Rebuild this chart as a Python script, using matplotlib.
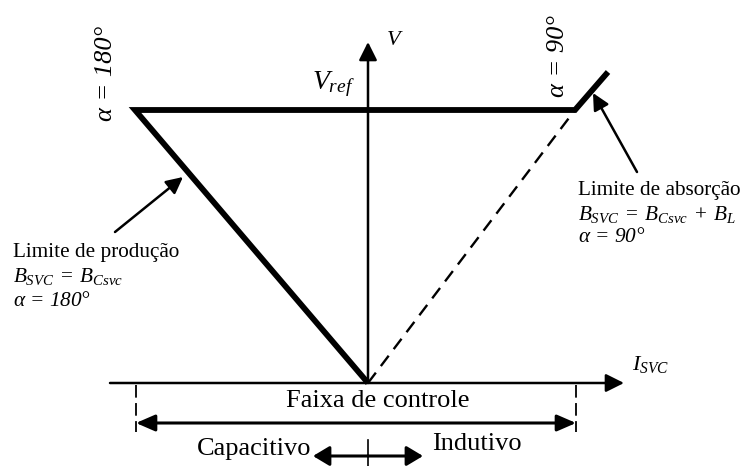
import matplotlib.pyplot as plt

plt.rcParams['font.family'] = ['Liberation Serif', 'DejaVu Serif']
plt.rcParams['mathtext.fontset'] = 'custom'
plt.rcParams['mathtext.rm'] = 'Liberation Serif'
plt.rcParams['mathtext.it'] = 'Liberation Serif:italic'

# characteristic V-I of the SVC, drawn in canvas units (x right, y down)
origin = (368, 383)
v_axis_top = (368, 42)
i_axis_x = [110, 624]
vref_y = 110
alpha180_x = 135
alpha90_x = 575
abs_tip = (608, 72)

# control band under the current axis
band_x = [136, 576]
band_y = 423
band_tick = [385, 432]
mode_y = 456
mode_x = [313, 423]
mode_tick = [440, 466]

# annotation arrows (tail, head)
prod_arrow = [(115, 232), (183, 177)]
abs_arrow = [(637, 172), (593, 93)]

prod_lines = ['Limite de produção', r'$B_{SVC}\;=\;B_{Csvc}$', r'$\alpha$ = 180°']
abs_lines = ['Limite de absorção', r'$B_{SVC}\;=\;B_{Csvc}\;+\;B_L$', r'$\alpha$ = 90°']

fig = plt.figure(figsize=(7.44, 4.66), dpi=100)
ax = fig.add_axes([0, 0, 1, 1])
ax.set_xlim(0, 744)
ax.set_ylim(466, 0)
ax.axis('off')


def arrow(tail, head, style='-|>', lw=1.8, hl=1.1, hw=0.55):
    ax.annotate('', xy=head, xytext=tail,
                arrowprops=dict(arrowstyle=f'{style},head_length={hl},head_width={hw}',
                                lw=lw, color='k', shrinkA=0, shrinkB=0,
                                mutation_scale=10))


# axes
arrow((i_axis_x[0], origin[1]), (i_axis_x[1], origin[1]))
arrow(origin, v_axis_top)

# thick limit characteristic
ax.plot([origin[0], alpha180_x, alpha90_x, abs_tip[0]],
        [origin[1], vref_y, vref_y, abs_tip[1]],
        color='k', lw=4.2, solid_joinstyle='miter', solid_capstyle='butt')

# dashed absorption slope
ax.plot([origin[0], alpha90_x], [origin[1], vref_y], color='k', lw=1.7,
        dashes=(5.5, 3.5))

# control band
for x in band_x:
    ax.plot([x, x], band_tick, color='k', lw=1.3, dashes=(7, 3))
arrow((band_x[0], band_y), (band_x[1], band_y), style='<|-|>', lw=2.2, hl=1.15, hw=0.5)

arrow((origin[0], mode_y), (mode_x[0], mode_y), lw=2.2, hl=1.0, hw=0.6)
arrow((origin[0], mode_y), (mode_x[1], mode_y), lw=2.2, hl=1.0, hw=0.6)
ax.plot([origin[0], origin[0]], mode_tick, color='k', lw=1.2)

arrow(*prod_arrow, lw=1.8, hl=1.0, hw=0.5)
arrow(*abs_arrow, lw=1.8, hl=1.0, hw=0.5)

# labels
ax.text(387, 45, 'V', fontsize=16, style='italic', ha='left', va='baseline')
ax.text(312, 89, r'$V_{ref}$', fontsize=20, ha='left', va='baseline')
ax.text(632, 370, r'$I_{SVC}$', fontsize=16, ha='left', va='baseline')
ax.text(106, 73, 'α = 180°', fontsize=19, style='italic', rotation=90,
        ha='center', va='center')
ax.text(558, 56, 'α = 90°', fontsize=19, style='italic', rotation=90,
        ha='center', va='center')

ax.text(378, 407, 'Faixa de controle', fontsize=19, ha='center', va='baseline')
ax.text(311, 455, 'Capacitivo', fontsize=19, ha='right', va='baseline')
ax.text(432, 450, 'Indutivo', fontsize=19, ha='left', va='baseline')

for i, (y, s) in enumerate(zip([257, 282, 306], prod_lines)):
    ax.text(13, y, s, fontsize=15.3, ha='left', va='baseline',
            style='italic' if i == 2 else 'normal')
for i, (y, s) in enumerate(zip([195, 220, 242], abs_lines)):
    ax.text(578, y, s, fontsize=15.3, ha='left', va='baseline',
            style='italic' if i == 2 else 'normal')

fig.savefig('out.png', dpi=100)
